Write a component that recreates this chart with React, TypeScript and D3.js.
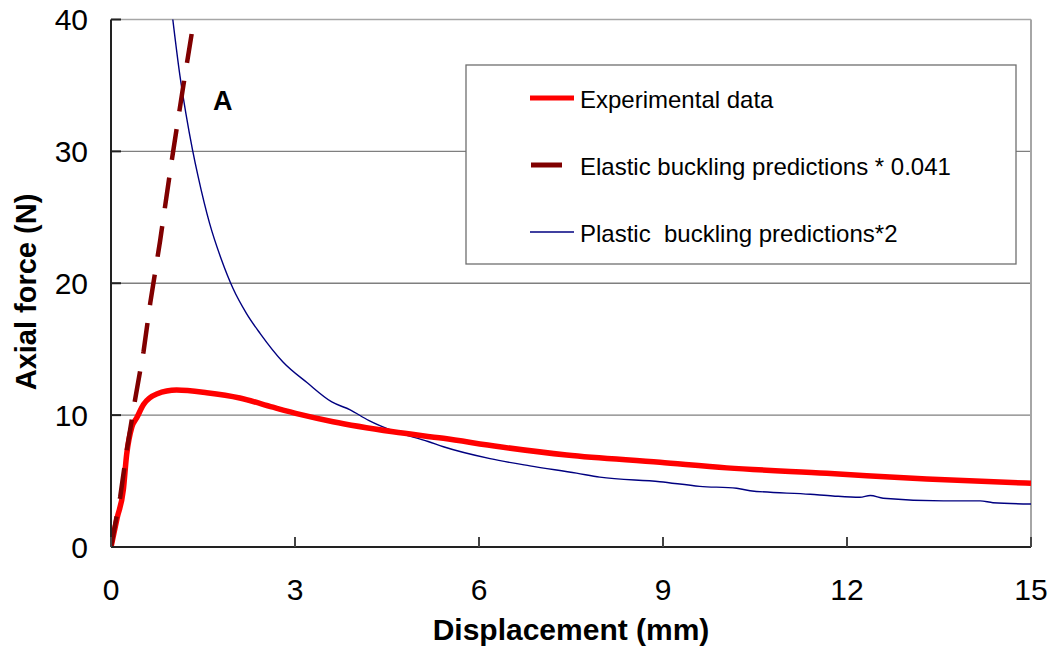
import React from "react";
import * as d3 from "d3";

const xTicks = [0, 3, 6, 9, 12, 15];
const yTicks = [0, 10, 20, 30, 40];

const experimentalX = [0, 0.1, 0.2, 0.255, 0.34, 0.42, 0.53, 0.745, 1.07, 1.56, 2.1, 2.64, 3.08, 3.62, 4.6, 5.42, 6.34, 7.43, 8.95, 10.04, 11.67, 13.3, 15];
const experimentalY = [0, 2.2, 4.3, 7.0, 9.1, 9.8, 10.8, 11.6, 11.9, 11.7, 11.3, 10.6, 10.06, 9.5, 8.74, 8.24, 7.6, 6.97, 6.42, 6.0, 5.59, 5.15, 4.83];

const elasticX = [0, 0.15, 0.26, 0.39, 0.53, 0.64, 0.8, 0.99, 1.18, 1.315];
const elasticY = [0, 3.8, 7.4, 11.1, 14.8, 18.5, 23.2, 29.3, 35.0, 38.9];

const plasticX = [1.0, 1.125, 1.22, 1.33, 1.42, 1.61, 1.8, 1.99, 2.21, 2.43, 2.8, 3.2, 3.6, 3.9, 4.2, 4.6, 5.17, 5.42, 6.18, 6.83, 7.59, 7.97, 8.95, 9.6, 10.2, 10.42, 11.4, 11.77, 12.21, 12.38, 12.59, 13.57, 14.17, 14.38, 15];
const plasticY = [40.3, 35.7, 32.9, 30.1, 28.1, 24.5, 21.8, 19.6, 17.7, 16.2, 14.05, 12.45, 11.0, 10.4, 9.6, 8.8, 8.0, 7.6, 6.7, 6.15, 5.6, 5.3, 4.95, 4.6, 4.45, 4.27, 4.0, 3.87, 3.77, 3.9, 3.7, 3.5, 3.5, 3.36, 3.26];

const legendLabels = ["Experimental data", "Elastic buckling predictions * 0.041", "Plastic  buckling predictions*2"];

const FONT = "'Liberation Sans', Arial, sans-serif";

export default function App() {
  const W = 1062, H = 653;
  const L = 111, R = 1031, T = 19.5, B = 547;
  const x = d3.scaleLinear().domain([0, 15]).range([L, R]);
  const y = d3.scaleLinear().domain([0, 40]).range([B, T]);

  const zip = (xs: number[], ys: number[]) => xs.map((v, i) => [v, ys[i]] as [number, number]);
  const smooth = d3.line<[number, number]>().x(d => x(d[0])).y(d => y(d[1])).curve(d3.curveMonotoneX);
  const lin = d3.line<[number, number]>().x(d => x(d[0])).y(d => y(d[1]));

  const expPath = smooth(zip(experimentalX, experimentalY)) || "";
  const elaPath = lin(zip(elasticX, elasticY)) || "";
  const plaPath = smooth(zip(plasticX, plasticY)) || "";

  const legendY = [98, 165, 232];

  return (
    <svg width={W} height={H} style={{ position: "absolute", left: 0, top: 0, background: "#fff" }} fontFamily={FONT}>
      <defs>
        <clipPath id="plot">
          <rect x={L} y={T} width={R - L} height={B - T} />
        </clipPath>
      </defs>
      {yTicks.filter(t => t > 0).map(t => (
        <line key={"g" + t} x1={L} x2={R} y1={y(t)} y2={y(t)} stroke={t === 40 ? "#a6a6a6" : "#7f7f7f"} strokeWidth={1.3} />
      ))}
      <line x1={R} x2={R} y1={T} y2={B} stroke="#a6a6a6" strokeWidth={2} />
      <g clipPath="url(#plot)">
        <path d={plaPath} fill="none" stroke="#000080" strokeWidth={1.4} />
        <path d={expPath} fill="none" stroke="#ff0000" strokeWidth={5.5} strokeLinejoin="round" />
        <path d={elaPath} fill="none" stroke="#800000" strokeWidth={4.5} strokeDasharray="31,18" />
      </g>
      <line x1={L} x2={L} y1={T} y2={B} stroke="#222" strokeWidth={2} />
      <line x1={L} x2={R} y1={B} y2={B} stroke="#222" strokeWidth={2} />
      {yTicks.map(t => (
        <g key={"y" + t}>
          <line x1={L} x2={L + 10} y1={y(t)} y2={y(t)} stroke="#222" strokeWidth={2} />
          <text x={88} y={y(t)} dy="0.36em" textAnchor="end" fontSize={30} fill="#000">{t}</text>
        </g>
      ))}
      {xTicks.map(t => (
        <g key={"x" + t}>
          <line x1={x(t)} x2={x(t)} y1={B} y2={B - 10} stroke="#444" strokeWidth={2} />
          <text x={x(t)} y={600} textAnchor="middle" fontSize={30} fill="#000">{t}</text>
        </g>
      ))}
      <text x={(L + R) / 2} y={640} textAnchor="middle" fontSize={30} fontWeight="bold" fill="#000">Displacement (mm)</text>
      <text transform={`translate(36,${292}) rotate(-90)`} textAnchor="middle" fontSize={29} fontWeight="bold" fill="#000">Axial force (N)</text>
      <text x={213} y={110} fontSize={27} fontWeight="bold" fill="#000">A</text>
      <rect x={466} y={65} width={550} height={199} fill="#fff" stroke="#6f6f6f" strokeWidth={1.3} />
      <line x1={530} x2={574} y1={legendY[0]} y2={legendY[0]} stroke="#ff0000" strokeWidth={5} />
      <line x1={531} x2={562} y1={legendY[1]} y2={legendY[1]} stroke="#800000" strokeWidth={5} />
      <line x1={530} x2={574} y1={legendY[2]} y2={legendY[2]} stroke="#000080" strokeWidth={1.4} />
      {legendLabels.map((s, i) => (
        <text key={s} x={580} y={legendY[i] + 10} fontSize={24} fill="#000" style={{ whiteSpace: "pre" }}>{s}</text>
      ))}
    </svg>
  );
}
